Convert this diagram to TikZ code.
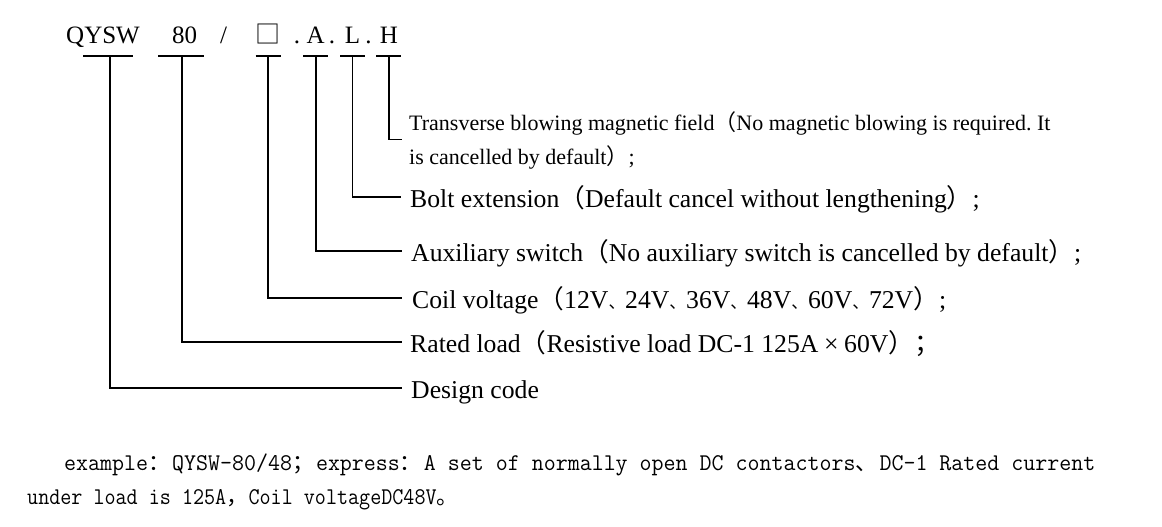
\documentclass[tikz,border=0pt]{standalone}
\usepackage{fontspec}
\setmainfont{Liberation Serif}
\newfontfamily\cjk{Noto Sans CJK SC}
\newfontfamily\codefont[FakeStretch=0.895]{Latin Modern Mono}
\newfontfamily\codewide[FakeStretch=0.97]{Latin Modern Mono}
\definecolor{leadblack}{HTML}{000000}

% full-width marks in the mixed text
\newcommand\wide[1]{{\cjk #1}}
\newcommand\dun{{\fontsize{16.7}{20}\cjk 、}}
\newcommand\fwA[1]{\makebox[24pt][l]{\fontsize{22}{26}\cjk #1}}
\newcommand\fwB[1]{\makebox[22.3pt][l]{\fontsize{22}{26}\cjk #1}}

\begin{document}
\frenchspacing
\begin{tikzpicture}[x=1pt, y=-1pt,
    lead/.style={line width=1.6pt, leadblack},
    tok/.style={anchor=base west, inner sep=0pt, font=\fontsize{25}{30}\selectfont},
    lbl/.style={anchor=base west, inner sep=0pt, font=\fontsize{25.7}{30}\selectfont},
    smalllbl/.style={anchor=base west, inner sep=0pt, font=\fontsize{22}{26}\selectfont},
    codeline/.style={anchor=base west, inner sep=0pt}]
        \def\baseY{43.3}
        \def\barY{56}

        % page
        \useasboundingbox (0, 0) rectangle (1162, 527);
        \fill [white] (0, 0) rectangle (1162, 527);

        % model code
        \node [tok] (qysw) at (66, \baseY) {QYSW};
        \node [tok] (num) at (172, \baseY) {80};
        \node [tok] (slash) at (220, \baseY) {/};
        \node [tok, font=\fontsize{25}{30}\cjk] (box) at (255.5, \baseY) {□};
        \node [tok] (dotA) at (293.6, \baseY) {.};
        \node [tok] (optA) at (306.5, \baseY) {A};
        \node [tok] (dotL) at (328.6, \baseY) {.};
        \node [tok] (optL) at (344.7, \baseY) {L};
        \node [tok] (dotH) at (365.2, \baseY) {.};
        \node [tok] (optH) at (379.6, \baseY) {H};

        % meanings
        \node [smalllbl] (field) at (409, 130) {Transverse blowing magnetic field\wide{（}No magnetic blowing is required. It};
        \node [smalllbl] (field2) at (409, 164) {is cancelled by default\wide{）};};
        \node [lbl] (bolt) at (410, 207.3) {Bolt extension\wide{（}Default cancel without lengthening\wide{）};};
        \node [lbl] (aux) at (411, 261.3) {Auxiliary switch\wide{（}No auxiliary switch is cancelled by default\wide{）};};
        \node [lbl] (coil) at (412, 308.3) {Coil voltage\wide{（}12V\dun 24V\dun 36V\dun 48V\dun 60V\dun 72V\wide{）};};
        \node [lbl] (rated) at (410, 352.6) {Rated load\wide{（}Resistive load DC-1 125A\makebox[1em][c]{×}60V\wide{）；}};
        \node [lbl] (design) at (411, 398.6) {Design code};

        % example
        \node [codeline, font=\fontsize{24}{28}\codewide] (example) at (64, 470)
            {example\fwA{：}QYSW-80/48\fwA{；}express\fwA{：}A set of normally open DC contactors\fwA{、}DC-1 Rated current};
        \node [codeline, font=\fontsize{24}{28}\codefont] (example2) at (27, 504)
            {under load is 125A\fwB{，}Coil voltageDC48V\fwB{。}};

        % bar feet
        \coordinate (bar) at (0, \barY);
        \coordinate [xshift=7pt] (tQ) at (qysw.base |- bar);
        \coordinate [xshift=-2.5pt] (tN) at (num.base |- bar);
        \coordinate (tB) at (box.base |- bar);
        \coordinate (tA) at (optA.base |- bar);
        \coordinate (tL) at (optL.base |- bar);
        \coordinate (tH) at (optH.base |- bar);

        \draw [lead] ([xshift=-27pt]tQ) -- ([xshift=23pt]tQ);
        \draw [lead] ([xshift=-24pt]tN) -- ([xshift=22pt]tN);
        \foreach \t in {tB, tA, tL, tH}
            \draw [lead] ([xshift=-12.5pt]\t) -- ([xshift=12.5pt]\t);

        % leaders
        \draw [lead] (tH) |- ([shift={(-7.3pt,-9.3pt)}]field.base west);
        \draw [lead] (tL) |- ([shift={(-9pt,10.6pt)}]bolt.base west);
        \draw [lead] (tA) |- ([shift={(-9pt,10.6pt)}]aux.base west);
        \draw [lead] (tB) |- ([shift={(-10pt,10.6pt)}]coil.base west);
        \draw [lead] (tN) |- ([shift={(-8pt,10.6pt)}]rated.base west);
        \draw [lead] (tQ) |- ([shift={(-9pt,10.6pt)}]design.base west);
    \end{tikzpicture}
\end{document}
